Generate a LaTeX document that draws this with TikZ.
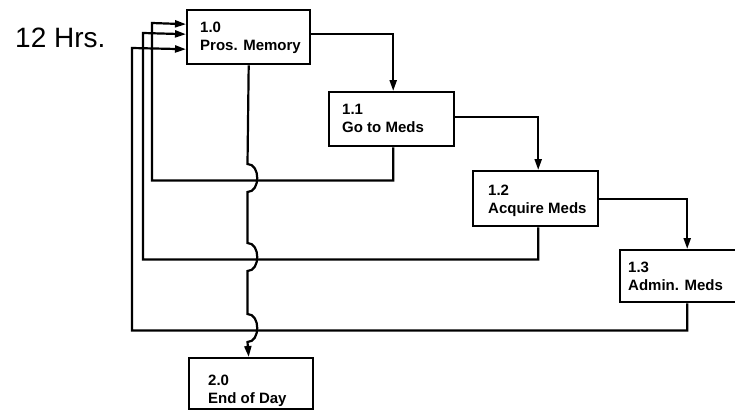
\documentclass[tikz,border=0pt]{standalone}
\usepackage{fontspec}
\setmainfont{Liberation Sans}
\usetikzlibrary{arrows.meta}
\begin{document}
\begin{tikzpicture}[x=1pt,y=-1pt,
  box/.style={draw, line width=2.4pt, anchor=north west, inner sep=0pt},
  lbl/.style={anchor=base west, align=left, inner sep=0pt, font=\fontsize{15}{18}\selectfont\bfseries},
  conn/.style={line width=2.2pt},
  arr/.style={conn, -{Triangle[length=11pt,width=7pt]}}]
\useasboundingbox (0,0) rectangle (735,410);
% title
\node[anchor=base west, inner sep=0pt, font=\fontsize{28}{30}\selectfont] (hrs) at (15,47) {12 Hrs.};
% boxes
\node[box, minimum width=123pt, minimum height=54pt] (p10) at (186,9) {};
\node[box, minimum width=125pt, minimum height=54pt] (p11) at (328,91) {};
\node[box, minimum width=125pt, minimum height=55pt] (p12) at (472,170) {};
\node[box, minimum width=134pt, minimum height=52pt] (p13) at (619,249) {};
\node[box, minimum width=124pt, minimum height=51pt] (p20) at (188,357) {};
% labels (anchor = baseline of the last line)
\node[lbl] (t10) at ([xshift=14pt,yshift=-41pt]p10.north west) {1.0\\Pros. Memory};
\node[lbl] (t11) at ([xshift=14pt,yshift=-41pt]p11.north west) {1.1\\Go to Meds};
\node[lbl] (t12) at ([xshift=16pt,yshift=-43pt]p12.north west) {1.2\\Acquire Meds};
\node[lbl] (t13) at ([xshift=9pt,yshift=-41pt]p13.north west) {1.3\\Admin. Meds};
\node[lbl] (t20) at ([xshift=20pt,yshift=-46pt]p20.north west) {2.0\\End of Day};
% forward connectors
\draw[arr] ([yshift=3pt]p10.east) -| ([xshift=1.5pt]p11.north);
\draw[arr] ([yshift=2pt]p11.east) -| ([xshift=2.5pt]p12.north);
\draw[arr] (p12.east) -| (p13.north);
% return connectors
\draw[arr] ([xshift=1.5pt]p11.south) -- ++(0,33) -| (152,23) -- ([yshift=13pt]p10.west);
\draw[arr] ([xshift=2.5pt]p12.south) -- ++(0,32) -| (143,33) -- ([yshift=3pt]p10.west);
\draw[arr] (p13.south) -- ++(0,27) -| (132,48) -- ([yshift=-12pt]p10.west);
% main line with hops
\draw[arr] (p10.south) -- (247.5,164)
  .. controls (260.5,164) and (260.5,192) .. (247.5,192) -- (247.5,243)
  .. controls (260.5,243) and (260.5,271) .. (247.5,271) -- (247.5,314)
  .. controls (260.5,314) and (260.5,342) .. (247.5,342) -- (p10.south |- p20.north);
\end{tikzpicture}
\end{document}
